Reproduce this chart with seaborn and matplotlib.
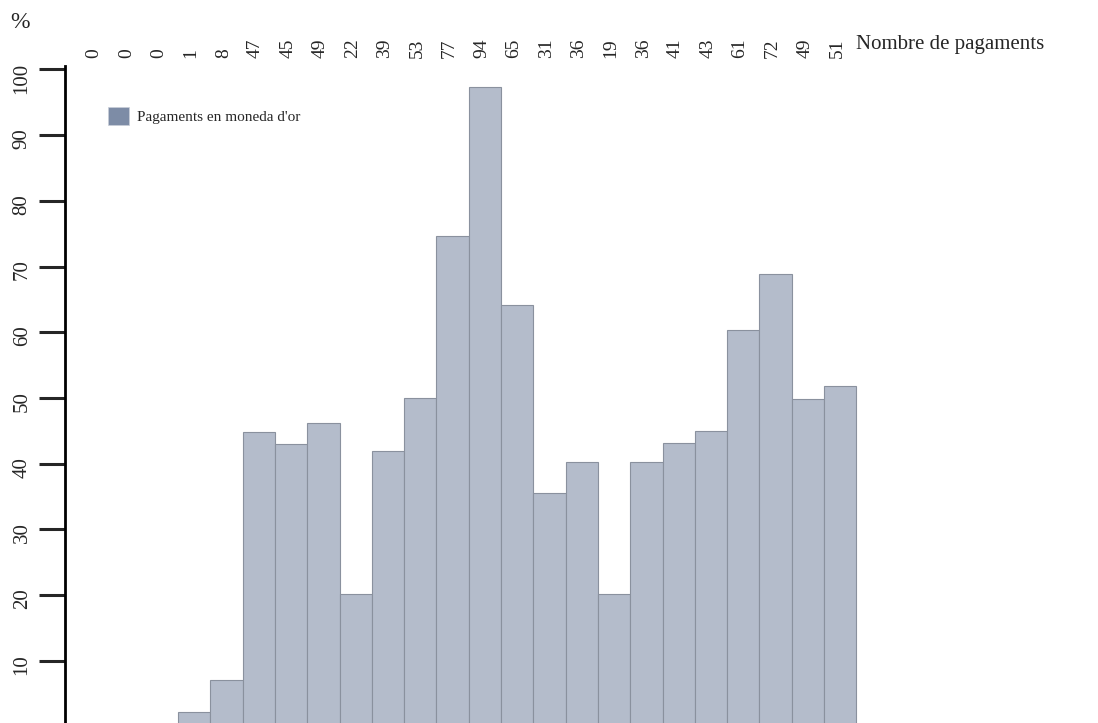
import matplotlib
matplotlib.use("Agg")
import matplotlib.pyplot as plt
import matplotlib.transforms as mtransforms
from matplotlib.patches import Patch
import seaborn as sns
import pandas as pd

# Nombre de pagaments per column (printed along the top)
payment_counts = [0, 0, 0, 1, 8, 47, 45, 49, 22, 39, 53, 77, 94, 65, 31, 36, 19, 36, 41, 43, 61, 72, 49, 51]
# share of payments made in gold coin (%)
gold_pct = [0, 0, 0, 2.2, 7.1, 44.8, 43.0, 46.2, 20.1, 41.9, 50.0, 74.7, 97.4, 64.2,
            35.5, 40.3, 20.2, 40.3, 43.2, 44.9, 60.3, 68.8, 49.9, 51.8]
y_ticks = [10, 20, 30, 40, 50, 60, 70, 80, 90, 100]
legend_label = "Pagaments en moneda d'or"
count_title = "Nombre de pagaments"

df = pd.DataFrame({"col": list(range(len(gold_pct))), "pct": gold_pct})

sns.set_style("white")
plt.rcParams["font.family"] = ["Liberation Serif", "DejaVu Serif"]

bar_color = "#b4bccb"
edge_color = "#8a919e"

fig = plt.figure(figsize=(10.98, 7.23), dpi=100)
ax = fig.add_axes([65 / 1098, 0, 1033 / 1098, 657 / 723])

sns.barplot(data=df, x="col", y="pct", color=bar_color, saturation=1, width=1.0,
            edgecolor=edge_color, linewidth=0.8, errorbar=None, ax=ax)

ax.set_xlim(-1, 30.98)
ax.set_ylim(0.53, 100.53)
ax.set_xticks([])
ax.set_xlabel("")
ax.set_ylabel("")
ax.set_yticks(y_ticks)
ax.tick_params(axis="y", direction="out", length=19, width=2.2, pad=5,
               labelsize=15, labelrotation=90, left=True)
for side in ["top", "right", "bottom"]:
    ax.spines[side].set_visible(False)
ax.spines["left"].set_linewidth(2)
ax.spines["left"].set_color("black")

# counts on top of each column
trans = mtransforms.blended_transform_factory(ax.transData, ax.transAxes)
for i, n in enumerate(payment_counts):
    ax.text(i - 0.1, 1.012, str(n), transform=trans, rotation=90, ha="center",
            va="bottom", fontsize=14)

fig.text(856 / 1098, 1 - 45 / 723, count_title, ha="left", va="center", fontsize=15)
fig.text(20 / 1098, 1 - 22 / 723, "%", ha="center", va="center", fontsize=17)

handle = Patch(facecolor="#7d8ca6", edgecolor="#c9ced8", linewidth=0.5)
ax.legend(handles=[handle], labels=[legend_label], loc="upper left",
          bbox_to_anchor=(0.0416, 0.937), frameon=False, borderpad=0,
          borderaxespad=0, handlelength=1.4, handleheight=1.4,
          handletextpad=0.5, fontsize=11)

fig.savefig("out.png", dpi=100)
